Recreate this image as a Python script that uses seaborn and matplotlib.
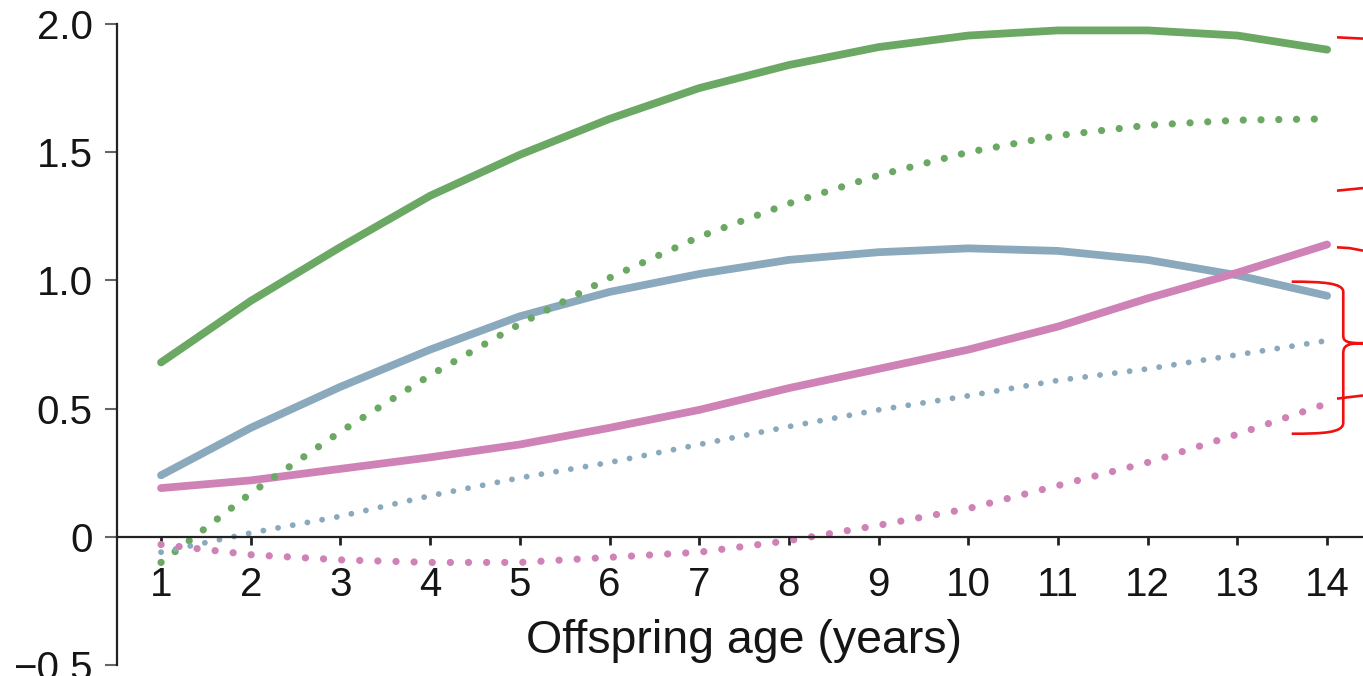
import matplotlib
matplotlib.use("Agg")
import matplotlib.pyplot as plt
import pandas as pd
import seaborn as sns
from matplotlib.path import Path
from matplotlib.patches import PathPatch

# Offspring age (years) and the six fitted trajectories
ages = list(range(1, 15))
green_solid = [0.68, 0.92, 1.13, 1.33, 1.49, 1.63, 1.75, 1.84, 1.91, 1.955, 1.975, 1.975, 1.955, 1.90]
green_dotted = [-0.10, 0.17, 0.41, 0.63, 0.83, 1.01, 1.17, 1.30, 1.41, 1.50, 1.565, 1.605, 1.625, 1.63]
blue_solid = [0.24, 0.425, 0.585, 0.73, 0.86, 0.955, 1.025, 1.08, 1.11, 1.125, 1.115, 1.08, 1.02, 0.94]
blue_dotted = [-0.06, 0.015, 0.08, 0.16, 0.23, 0.29, 0.36, 0.43, 0.495, 0.55, 0.61, 0.655, 0.71, 0.765]
pink_solid = [0.19, 0.22, 0.265, 0.31, 0.36, 0.425, 0.495, 0.58, 0.655, 0.73, 0.82, 0.93, 1.03, 1.14]
pink_dotted = [-0.03, -0.07, -0.09, -0.10, -0.10, -0.08, -0.06, -0.015, 0.045, 0.11, 0.20, 0.29, 0.40, 0.52]

y_ticks = [-0.5, 0.0, 0.5, 1.0, 1.5, 2.0]
y_ticklabels = ["\u22120.5", "0", "0.5", "1.0", "1.5", "2.0"]
x_label = "Offspring age (years)"

GREEN = "#6aa864"
BLUE = "#8aa9bd"
PINK = "#cf82b5"
INK = "#151515"

series = [
    ("green_solid", green_solid),
    ("blue_solid", blue_solid),
    ("pink_solid", pink_solid),
    ("green_dotted", green_dotted),
    ("blue_dotted", blue_dotted),
    ("pink_dotted", pink_dotted),
]
styles = {
    "green_solid": dict(color=GREEN, lw=5.6, ls="-"),
    "blue_solid": dict(color=BLUE, lw=5.6, ls="-"),
    "pink_solid": dict(color=PINK, lw=5.6, ls="-"),
    "green_dotted": dict(color=GREEN, lw=5.2, ls=(0, (0.01, 2.45))),
    "blue_dotted": dict(color=BLUE, lw=4.2, ls=(0, (0.01, 2.55))),
    "pink_dotted": dict(color=PINK, lw=5.2, ls=(0, (0.01, 2.5))),
}

df = pd.DataFrame({
    "age": ages * len(series),
    "value": [v for _, vals in series for v in vals],
    "series": [name for name, vals in series for _ in vals],
})

sns.set_theme(style="white")
plt.rcParams["font.family"] = ["Liberation Sans", "DejaVu Sans"]
plt.rcParams["lines.solid_capstyle"] = "round"
plt.rcParams["lines.dash_capstyle"] = "round"

fig = plt.figure(figsize=(13.63, 6.76), dpi=100)
ax = fig.add_axes([117 / 1363, 11 / 676, 1246 / 1363, 641 / 676])

for name, _ in series:
    st = styles[name]
    sub = df[df["series"] == name]
    sns.lineplot(data=sub, x="age", y="value", ax=ax, color=st["color"],
                 linewidth=st["lw"], linestyle=st["ls"], errorbar=None,
                 legend=False)

ax.set_xlim(0.509, 14.40)
ax.set_ylim(-0.5, 2.0)

# axes frame: left spine over the full range, x axis drawn through zero
for side in ("top", "right"):
    ax.spines[side].set_visible(False)
ax.spines["left"].set_bounds(-0.5, 2.0)
ax.spines["bottom"].set_position(("data", 0))
for side in ("left", "bottom"):
    ax.spines[side].set_color("#222222")
    ax.spines[side].set_linewidth(1.6)

ax.set_xticks(ages)
ax.set_xticklabels([str(a) for a in ages])
ax.set_yticks(y_ticks)
ax.set_yticklabels(y_ticklabels)
ax.tick_params(axis="y", length=8.5, width=1.5, color="#666666", pad=9,
               labelsize=29, labelcolor=INK, left=True)
ax.tick_params(axis="x", length=6, width=2, color="#222222", pad=15,
               labelsize=29, labelcolor=INK, bottom=True)

ax.set_xlabel(x_label, fontsize=33.5, color=INK)
ax.xaxis.set_label_coords(0.5033, 0.0718)
ax.set_ylabel("")

# red hand-drawn markers at the right margin
RED = "#f01010"
red_kw = dict(color=RED, lw=1.9, solid_capstyle="butt", clip_on=False)
ax.plot([14.11, 14.40], [1.948, 1.943], **red_kw)
ax.plot([14.11, 14.40], [1.350, 1.360], **red_kw)
ax.plot([14.11, 14.25, 14.40], [1.129, 1.126, 1.116], **red_kw)
ax.plot([14.11, 14.40], [0.539, 0.551], **red_kw)

brace_verts = [
    (13.605, 0.995), (13.95, 0.995), (14.18, 0.99), (14.18, 0.955),
    (14.18, 0.785),
    (14.18, 0.762), (14.22, 0.755), (14.40, 0.755),
    (14.40, 0.755), (14.22, 0.755), (14.18, 0.745), (14.18, 0.715),
    (14.18, 0.445),
    (14.18, 0.405), (13.95, 0.402), (13.605, 0.402),
]
brace_codes = [
    Path.MOVETO, Path.CURVE4, Path.CURVE4, Path.CURVE4,
    Path.LINETO,
    Path.CURVE4, Path.CURVE4, Path.CURVE4,
    Path.MOVETO, Path.CURVE4, Path.CURVE4, Path.CURVE4,
    Path.LINETO,
    Path.CURVE4, Path.CURVE4, Path.CURVE4,
]
ax.add_patch(PathPatch(Path(brace_verts, brace_codes), facecolor="none",
                       edgecolor=RED, lw=1.9, clip_on=False))

fig.savefig("out.png", dpi=100, facecolor="white")
